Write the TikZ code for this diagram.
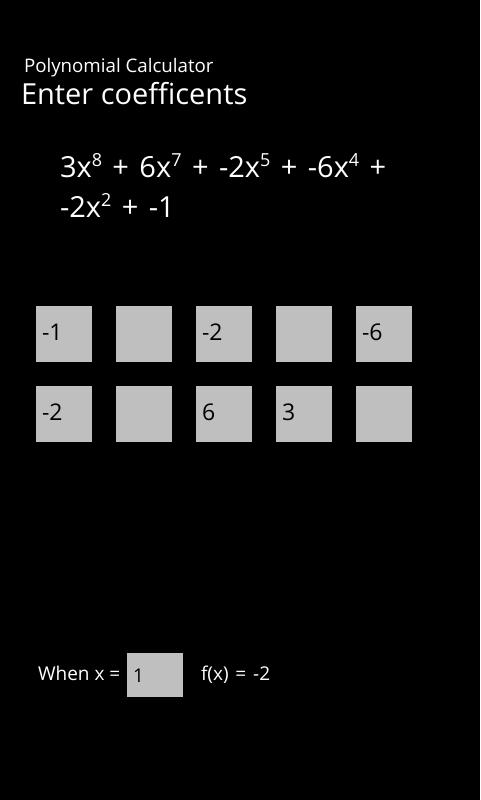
\documentclass[tikz,border=0pt]{standalone}
\usepackage{fontspec}
\setmainfont{Open Sans}
\definecolor{boxgray}{HTML}{BFBFBF}
\newcommand\mysup[1]{\raisebox{0.36em}{\fontsize{0.62em}{0.7em}\selectfont #1}}
\begin{document}
\begin{tikzpicture}[x=1pt,y=-1pt,
  every node/.style={inner sep=0pt, outer sep=0pt},
  wtext/.style={text=white, anchor=base west},
  cbox/.style={fill=boxgray, minimum width=56pt, minimum height=56pt, anchor=north west},
  boxtext/.style={text=black, anchor=base west, font=\fontsize{23}{27}\selectfont}
]
\fill[black] (0,0) rectangle (480,800);
\useasboundingbox (0,0) rectangle (480,800);
\node[wtext, font=\fontsize{18.7}{22}\selectfont] (app) at (24,72) {Polynomial Calculator};
\node[wtext, font=\fontsize{29}{34}\selectfont] (title) at (21,104) {Enter coefficents};
\node[wtext, font=\fontsize{29}{34}\selectfont] (poly1) at (60,177) {\spaceskip=0.36em 3x\mysup{8} + 6x\mysup{7} + -2x\mysup{5} + -6x\mysup{4} +};
\node[wtext, font=\fontsize{29}{34}\selectfont] (poly2) at (60,217) {\spaceskip=0.36em -2x\mysup{2} + -1};
% row 1
\node[cbox] (a1) at (36,306) {};
\node[cbox] (a2) at (116,306) {};
\node[cbox] (a3) at (196,306) {};
\node[cbox] (a4) at (276,306) {};
\node[cbox] (a5) at (356,306) {};
% row 2
\node[cbox] (c1) at (36,386) {};
\node[cbox] (c2) at (116,386) {};
\node[cbox] (c3) at (196,386) {};
\node[cbox] (c4) at (276,386) {};
\node[cbox] (c5) at (356,386) {};
\node[boxtext] (ta1) at (42,340) {-1};
\node[boxtext] (ta3) at (202,340) {-2};
\node[boxtext] (ta5) at (362,340) {-6};
\node[boxtext] (tc1) at (42,420) {-2};
\node[boxtext] (tc3) at (202,420) {6};
\node[boxtext] (tc4) at (282,420) {3};
% bottom
\node[wtext, font=\fontsize{19}{23}\selectfont] (when) at (38,680) {When x =};
\node[fill=boxgray, minimum width=56pt, minimum height=44pt, anchor=north west] (xbox) at (127,653) {};
\node[text=black, anchor=base west, font=\fontsize{19}{23}\selectfont] (xval) at (133,682) {1};
\node[wtext, font=\fontsize{19}{23}\selectfont] (fx) at (201,680) {\spaceskip=0.36em f(x) = -2};
\end{tikzpicture}
\end{document}
